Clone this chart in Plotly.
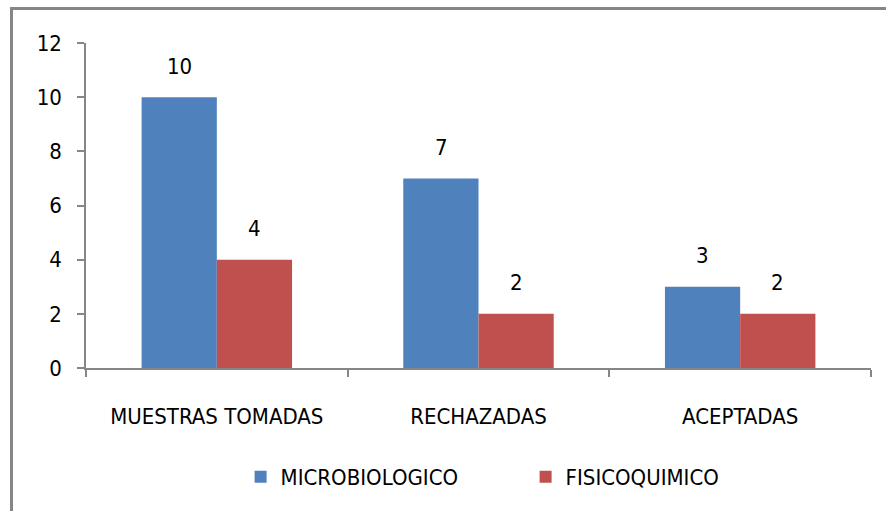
import plotly.graph_objects as go

categories = ["MUESTRAS TOMADAS", "RECHAZADAS", "ACEPTADAS"]
microbiologico = [10, 7, 3]
fisicoquimico = [4, 2, 2]
y_ticks = [0, 2, 4, 6, 8, 10, 12]

W, H = 886, 511
L, R, T, B = 86, 15, 43, 143
pw, ph = W - L - R, H - T - B

BLUE = "#4F81BD"
RED = "#C0504D"
AXIS = "#868686"
FONT = "DejaVu Sans Condensed, Roboto, sans-serif"
FS = 22

fig = go.Figure()
fig.add_trace(go.Bar(name="MICROBIOLOGICO", x=categories, y=microbiologico,
                     marker=dict(color=BLUE, line=dict(width=0))))
fig.add_trace(go.Bar(name="FISICOQUIMICO", x=categories, y=fisicoquimico,
                     marker=dict(color=RED, line=dict(width=0))))

# value labels sitting well above each bar
bar_half = 37.5
for i, cat in enumerate(categories):
    for vals, dx in ((microbiologico, -bar_half), (fisicoquimico, bar_half)):
        fig.add_annotation(x=cat, y=vals[i], text=str(vals[i]), xshift=dx, yshift=31,
                           showarrow=False, font=dict(size=FS, color="black", family=FONT))

# outer chart border
def px_x(v):
    return (v - L) / pw

def px_y(v):
    return (H - B - v) / ph

fig.add_shape(type="rect", xref="paper", yref="paper",
              x0=px_x(11.5), x1=px_x(W + 20), y0=px_y(8.5), y1=px_y(H + 20),
              line=dict(color=AXIS, width=3), fillcolor="rgba(0,0,0,0)", layer="below")

fig.update_layout(
    width=W, height=H,
    margin=dict(l=L, r=R, t=T, b=B),
    paper_bgcolor="white", plot_bgcolor="white",
    barmode="group", bargap=0.425, bargroupgap=0,
    font=dict(family=FONT, size=FS, color="black"),
    showlegend=True,
    legend=dict(orientation="h", x=0.56, xanchor="center", y=-0.335, yanchor="middle",
                font=dict(size=FS, family=FONT), entrywidth=240, itemwidth=30,
                bgcolor="rgba(0,0,0,0)"),
    xaxis=dict(showline=True, linecolor=AXIS, linewidth=1.5, ticks="outside",
               tickson="boundaries", ticklen=7, tickcolor=AXIS, tickwidth=1.5,
               showgrid=False, zeroline=False, tickfont=dict(size=FS, family=FONT),
               ticklabelstandoff=28),
    yaxis=dict(range=[0, 12], tickvals=y_ticks, showline=True, linecolor=AXIS,
               linewidth=1.5, ticks="outside", ticklen=7, tickcolor=AXIS, tickwidth=1.5,
               showgrid=False, zeroline=False, tickfont=dict(size=FS, family=FONT),
               ticklabelstandoff=11),
)

fig.write_html("out.html")
